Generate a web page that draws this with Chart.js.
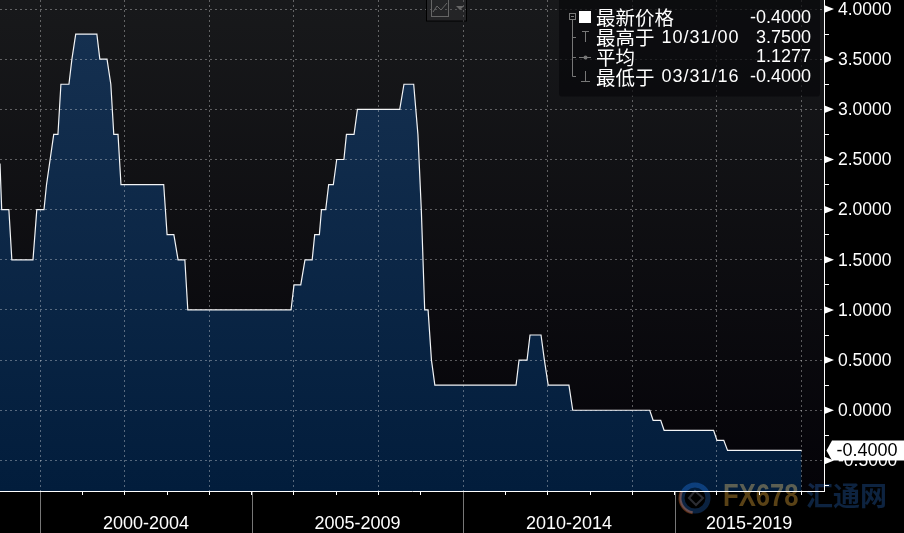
<!DOCTYPE html>
<html>
<head>
<meta charset="utf-8">
<style>
  html, body { margin: 0; padding: 0; background: #000; }
  #wrap { width: 904px; height: 533px; }
</style>
<script src="https://cdn.jsdelivr.net/npm/chart.js@4/dist/chart.umd.min.js"></script>
</head>
<body>
<div id="wrap"><canvas id="rateChart"></canvas></div>
<script>
// data
const rateYears = [1999.05, 1999.09, 1999.26, 1999.33, 1999.83, 1999.92, 2000.09, 2000.15, 2000.32, 2000.42,
  2000.49, 2000.68, 2000.75, 2000.84, 2001.34, 2001.41, 2001.58, 2001.67, 2001.74, 2001.84,
  2001.91, 2002.92, 2003.00, 2003.16, 2003.26, 2003.42, 2003.49, 2005.93, 2006.00, 2006.16,
  2006.26, 2006.43, 2006.49, 2006.60, 2006.65, 2006.75, 2006.82, 2006.93, 2007.01, 2007.18,
  2007.24, 2007.42, 2007.50, 2008.50, 2008.60, 2008.83, 2008.93, 2009.01, 2009.09, 2009.17,
  2009.25, 2009.33, 2011.25, 2011.32, 2011.51, 2011.58, 2011.84, 2011.92, 2012.01, 2012.50,
  2012.59, 2014.41, 2014.49, 2014.67, 2014.75, 2015.92, 2016.00, 2016.16, 2016.25, 2018.00];
const rateValues = [2.46, 2.00, 2.00, 1.50, 1.50, 2.00, 2.00, 2.25, 2.75, 2.75,
  3.25, 3.25, 3.50, 3.75, 3.75, 3.50, 3.50, 3.25, 2.75, 2.75,
  2.25, 2.25, 1.75, 1.75, 1.50, 1.50, 1.00, 1.00, 1.25, 1.25,
  1.50, 1.50, 1.75, 1.75, 2.00, 2.00, 2.25, 2.25, 2.50, 2.50,
  2.75, 2.75, 3.00, 3.00, 3.25, 3.25, 2.75, 2.00, 1.00, 1.00,
  0.50, 0.25, 0.25, 0.50, 0.50, 0.75, 0.75, 0.50, 0.25, 0.25,
  0.00, 0.00, -0.10, -0.10, -0.20, -0.20, -0.30, -0.30, -0.40, -0.40];

const periodLabels = ["2000-2004", "2005-2009", "2010-2014", "2015-2019"];
const periodCenters = [2002.5, 2007.5, 2012.5, 2016.76];
const separatorYears = [2000, 2005, 2010, 2015];
const legendNames = ["最新价格", "最高于", "平均", "最低于"];
const legendDates = ["", "10/31/00", "", "03/31/16"];
const legendValues = ["-0.4000", "3.7500", "1.1277", "-0.4000"];
const lastLabel = "-0.4000";

const xMin = 1999.05, xMax = 2018.53;
const yMin = -0.805, yMax = 4.09;
const latin = '"Liberation Sans", Arial, sans-serif';
const cjk = '"Noto Sans CJK SC", sans-serif';
const gridGrey = "rgba(255,255,255,0.33)";

function isMajor(v) { return Math.abs(v * 2 - Math.round(v * 2)) < 1e-6; }

// dark panel behind the plot
const panel = {
  id: "panel",
  beforeDraw(chart) {
    const { ctx, chartArea: a } = chart;
    const g = ctx.createLinearGradient(0, a.top, 0, a.bottom);
    g.addColorStop(0, "#18191b");
    g.addColorStop(1, "#040308");
    ctx.save();
    ctx.fillStyle = "#000";
    ctx.fillRect(0, 0, chart.width, chart.height);
    ctx.fillStyle = g;
    ctx.fillRect(a.left, a.top, a.right - a.left, a.bottom - a.top);
    ctx.restore();
  }
};

// everything bloomberg puts on top: markers, legend box, price tag, watermark
const overlay = {
  id: "overlay",
  afterDraw(chart) {
    const { ctx, chartArea: a, scales } = chart;
    ctx.save();

    // year separators under the axis
    ctx.strokeStyle = "#777";
    ctx.lineWidth = 1;
    separatorYears.forEach(y => {
      const px = Math.round(scales.x.getPixelForValue(y)) + 0.5;
      ctx.beginPath();
      ctx.moveTo(px, a.bottom + 1);
      ctx.lineTo(px, chart.height);
      ctx.stroke();
    });

    // white triangles on the major y ticks
    ctx.fillStyle = "#fff";
    scales.y.ticks.filter(t => isMajor(t.value)).forEach(t => {
      const py = scales.y.getPixelForValue(t.value);
      ctx.beginPath();
      ctx.moveTo(a.right, py - 4);
      ctx.lineTo(a.right + 10, py);
      ctx.lineTo(a.right, py + 4);
      ctx.closePath();
      ctx.fill();
    });

    // watermark, added on top so the white axis stays white
    ctx.globalCompositeOperation = "lighter";
    ctx.textBaseline = "middle";
    ctx.textAlign = "left";
    ctx.lineWidth = 5;
    ctx.strokeStyle = "#0b2240";
    ctx.beginPath();
    ctx.arc(695, 498, 13, 0, Math.PI * 2);
    ctx.stroke();
    ctx.strokeStyle = "#5a2a10";
    ctx.lineWidth = 3;
    ctx.beginPath();
    ctx.arc(695, 498, 15, Math.PI * 0.55, Math.PI * 1.15);
    ctx.stroke();
    ctx.strokeStyle = "#2c2d33";
    ctx.lineWidth = 2;
    ctx.beginPath();
    ctx.moveTo(695, 491); ctx.lineTo(703, 498); ctx.lineTo(696, 505); ctx.lineTo(689, 498);
    ctx.closePath();
    ctx.stroke();
    const wm = ctx.createLinearGradient(723, 0, 798, 0);
    wm.addColorStop(0, "#5a4216");
    wm.addColorStop(1, "#6a2810");
    ctx.save();
    ctx.translate(723, 497);
    ctx.scale(0.8, 1);
    ctx.fillStyle = wm;
    ctx.font = "bold 32px " + latin;
    ctx.fillText("FX678", 0, 0);
    ctx.restore();
    ctx.fillStyle = "#0d2340";
    ctx.font = "bold 27px " + cjk;
    ctx.fillText("汇通网", 806, 496);
    ctx.globalCompositeOperation = "source-over";

    // legend box
    ctx.fillStyle = "rgba(8,8,11,0.72)";
    ctx.beginPath();
    ctx.roundRect(559, -6, 261, 102.5, 3);
    ctx.fill();

    // legend tree
    ctx.strokeStyle = "#777";
    ctx.lineWidth = 1;
    ctx.strokeRect(569.5, 13.5, 6, 6);
    ctx.beginPath();
    ctx.moveTo(571, 16.5); ctx.lineTo(574, 16.5);
    ctx.moveTo(572.5, 20); ctx.lineTo(572.5, 76.5); ctx.lineTo(576, 76.5);
    ctx.moveTo(572.5, 37.5); ctx.lineTo(576, 37.5);
    ctx.moveTo(572.5, 57.5); ctx.lineTo(576, 57.5);
    // high / average / low glyphs
    ctx.moveTo(582, 31.5); ctx.lineTo(589, 31.5);
    ctx.moveTo(585.5, 31.5); ctx.lineTo(585.5, 42);
    ctx.moveTo(579, 57.5); ctx.lineTo(591, 57.5);
    ctx.moveTo(585.5, 71); ctx.lineTo(585.5, 82);
    ctx.moveTo(581, 81.5); ctx.lineTo(590, 81.5);
    ctx.stroke();
    ctx.fillStyle = "#777";
    ctx.beginPath();
    ctx.arc(585.5, 57.5, 2, 0, Math.PI * 2);
    ctx.fill();
    ctx.fillStyle = "#fff";
    ctx.fillRect(579, 11, 12, 12);

    // legend text
    ctx.fillStyle = "#fff";
    legendNames.forEach((name, i) => {
      const py = 18 + i * 19.7;
      ctx.textAlign = "left";
      ctx.font = "19.5px " + cjk;
      ctx.fillText(name, 596, py);
      ctx.font = "18px " + latin;
      ctx.letterSpacing = "1px";
      ctx.fillText(legendDates[i], 661.5, py);
      ctx.letterSpacing = "0px";
      ctx.textAlign = "right";
      ctx.font = "18px " + latin;
      ctx.fillText(legendValues[i], 811, py);
    });

    // chart type button
    ctx.strokeStyle = "#000";
    ctx.strokeRect(426.5, -1, 40, 22);
    ctx.fillStyle = "rgba(60,60,62,0.35)";
    ctx.fillRect(427, 0, 39, 20.5);
    ctx.strokeStyle = "#666";
    ctx.strokeRect(431.5, -1, 17, 17.5);
    ctx.beginPath();
    ctx.moveTo(433, 12); ctx.lineTo(437, 6); ctx.lineTo(441, 10); ctx.lineTo(447, 3);
    ctx.stroke();
    ctx.fillStyle = "#666";
    ctx.beginPath();
    ctx.moveTo(456, 6); ctx.lineTo(464, 6); ctx.lineTo(460, 10);
    ctx.closePath();
    ctx.fill();

    // last price tag
    const tagY = Math.round(scales.y.getPixelForValue(rateValues[rateValues.length - 1])) + 0.5;
    ctx.fillStyle = "#fff";
    ctx.beginPath();
    ctx.moveTo(826.5, tagY);
    ctx.lineTo(832, tagY - 10);
    ctx.lineTo(904, tagY - 10);
    ctx.lineTo(904, tagY + 10);
    ctx.lineTo(832, tagY + 10);
    ctx.closePath();
    ctx.fill();
    ctx.fillStyle = "#000";
    ctx.textAlign = "left";
    ctx.font = "18px " + latin;
    ctx.fillText(lastLabel, 836.5, tagY + 0.5);

    ctx.restore();
  }
};

new Chart(document.getElementById("rateChart"), {
  type: "line",
  data: {
    datasets: [{
      data: rateYears.map((year, i) => ({ x: year, y: rateValues[i] })),
      borderColor: "#f2f4f6",
      borderWidth: 1.2,
      pointRadius: 0,
      tension: 0,
      fill: "start",
      backgroundColor(ctx) {
        const a = ctx.chart.chartArea;
        if (!a) return "#0d2747";
        const g = ctx.chart.ctx.createLinearGradient(0, a.top + 30, 0, a.bottom);
        g.addColorStop(0, "#153050");
        g.addColorStop(1, "#021d3c");
        return g;
      }
    }]
  },
  options: {
    responsive: true,
    maintainAspectRatio: false,
    animation: false,
    layout: { padding: 0, autoPadding: false },
    plugins: { legend: { display: false }, tooltip: { enabled: false } },
    scales: {
      x: {
        type: "linear",
        position: "bottom",
        min: xMin,
        max: xMax,
        afterFit(scale) { scale.height = 6; },
        // border has to share the grid's z, otherwise it is drawn before its position is known
        border: { color: "#fff", width: 1, dash: [2, 3], z: 1 },
        grid: {
          z: 1,
          tickLength: 4,
          tickColor: "#fff",
          color: c => (c.tick && c.tick.value % 2 === 0 ? gridGrey : "transparent")
        },
        ticks: { stepSize: 1, includeBounds: false, display: false }
      },
      period: {
        type: "linear",
        axis: "x",
        position: "bottom",
        min: xMin,
        max: xMax,
        afterFit(scale) { scale.height = 36; },
        afterBuildTicks(scale) { scale.ticks = periodCenters.map(v => ({ value: v })); },
        border: { display: false },
        grid: { display: false },
        ticks: {
          autoSkip: false,
          maxRotation: 0,
          padding: 8,
          color: "#fff",
          font: { family: latin, size: 18 },
          callback: (v, i) => periodLabels[i]
        }
      },
      y: {
        type: "linear",
        position: "right",
        min: yMin,
        max: yMax,
        afterFit(scale) {
          scale.width = 80;
          // no room kept above the top label, the plot runs to the window edge
          scale.paddingTop = 0;
          scale.paddingBottom = 0;
        },
        border: { color: "#fff", width: 1, dash: [2, 3], z: 1 },
        grid: {
          z: 1,
          tickLength: 5,
          tickColor: "#fff",
          color: c => (c.tick && isMajor(c.tick.value) ? gridGrey : "transparent")
        },
        ticks: {
          stepSize: 0.25,
          includeBounds: false,
          autoSkip: false,
          padding: 9,
          labelOffset: 1,
          color: "#fff",
          font: { family: latin, size: 17.5 },
          callback: v => (isMajor(v) ? v.toFixed(4) : "")
        }
      }
    }
  },
  plugins: [panel, overlay]
});
</script>
</body>
</html>
